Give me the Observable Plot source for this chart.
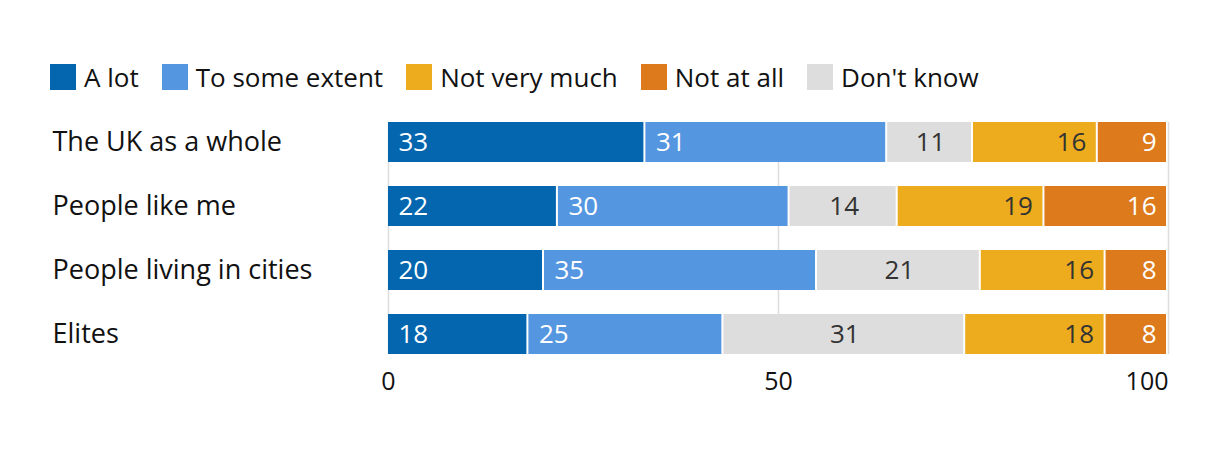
<!DOCTYPE html>
<html>
<head>
<meta charset="utf-8">
<script src="https://cdn.jsdelivr.net/npm/d3@7"></script>
<script src="https://cdn.jsdelivr.net/npm/@observablehq/plot@0.6"></script>
<style>
  body { margin: 0; background: #fff; font-family: "Open Sans", sans-serif; }
  #legend { display: flex; align-items: center; height: 26px; padding-top: 64px; padding-left: 50px; margin-bottom: 10px; font-size: 26px; color: #111; }
  .item { display: flex; align-items: center; margin-right: 23px; }
  .sw { width: 26px; height: 26px; margin-right: 8px; }
</style>
</head>
<body>
<div id="legend"></div>
<div id="chart"></div>
<script>
const categories = ["The UK as a whole", "People like me", "People living in cities", "Elites"];
const seriesNames = ["A lot", "To some extent", "Don't know", "Not very much", "Not at all"];
const legendOrder = ["A lot", "To some extent", "Not very much", "Not at all", "Don't know"];
const colors = ["#0366ae", "#5596e0", "#dddddd", "#edac1d", "#dc7a1c"];
const aLot = [33, 22, 20, 18];
const toSomeExtent = [31, 30, 35, 25];
const dontKnow = [11, 14, 21, 31];
const notVeryMuch = [16, 19, 16, 18];
const notAtAll = [9, 16, 8, 8];
const xTicks = [0, 50, 100];

const seriesValues = [aLot, toSomeExtent, dontKnow, notVeryMuch, notAtAll];
const data = [];
categories.forEach((c, i) => {
  seriesNames.forEach((s, j) => data.push({cat: c, series: s, value: seriesValues[j][i]}));
});

const colorMap = Object.fromEntries(seriesNames.map((s, i) => [s, colors[i]]));
const lightText = new Set(["A lot", "To some extent", "Not at all"]);
const leftLabeled = new Set(["A lot", "To some extent"]);
const midLabeled = new Set(["Don't know"]);
const rightLabeled = new Set(["Not very much", "Not at all"]);

const legend = document.getElementById("legend");
legendOrder.forEach(s => {
  const it = document.createElement("div");
  it.className = "item";
  it.innerHTML = `<div class="sw" style="background:${colorMap[s]}"></div><span>${s}</span>`;
  legend.appendChild(it);
});

const stackOpts = {x: "value", y: "cat", z: "series", order: seriesNames, offset: "normalize"};
const labelFor = set => d => set.has(d.series) ? String(d.value) : "";
const textCommon = {fontSize: 26, fill: d => lightText.has(d.series) ? "#fff" : "#333"};
const tickFmt = d => String(d);

const chart = Plot.plot({
  width: 1220,
  height: 354,
  marginLeft: 388,
  marginRight: 52,
  marginTop: 22,
  marginBottom: 100,
  style: {fontFamily: "Open Sans, sans-serif", fontSize: "24px", color: "#111", background: "#fff"},
  x: {domain: [0, 1], axis: null},
  y: {domain: categories, paddingInner: 0.375, paddingOuter: 0, axis: null},
  color: {domain: seriesNames, range: colors},
  marks: [
    Plot.gridX(xTicks.map(t => t / 100), {stroke: "#dddddd", strokeOpacity: 1, strokeWidth: 1.5}),
    Plot.barX(data, Plot.stackX({...stackOpts, fill: "series", insetRight: 2})),
    Plot.text(data, Plot.stackX1({...stackOpts, ...textCommon, text: labelFor(leftLabeled), textAnchor: "start", dx: 10})),
    Plot.text(data, Plot.stackX({...stackOpts, ...textCommon, text: labelFor(midLabeled)})),
    Plot.text(data, Plot.stackX2({...stackOpts, ...textCommon, text: labelFor(rightLabeled), textAnchor: "end", dx: -12})),
    Plot.text(categories, {y: d => d, text: d => d, frameAnchor: "left", textAnchor: "start", dx: -336, fontSize: 27, fill: "#111"}),
    Plot.text(xTicks.filter(t => t < 100), {x: d => d / 100, text: tickFmt, frameAnchor: "bottom", dy: 35, fontSize: 25, fill: "#111"}),
    Plot.text(xTicks.filter(t => t === 100), {x: d => d / 100, text: tickFmt, frameAnchor: "bottom", dy: 35, textAnchor: "end", fontSize: 25, fill: "#111"})
  ]
});
document.getElementById("chart").appendChild(chart);
</script>
</body>
</html>
